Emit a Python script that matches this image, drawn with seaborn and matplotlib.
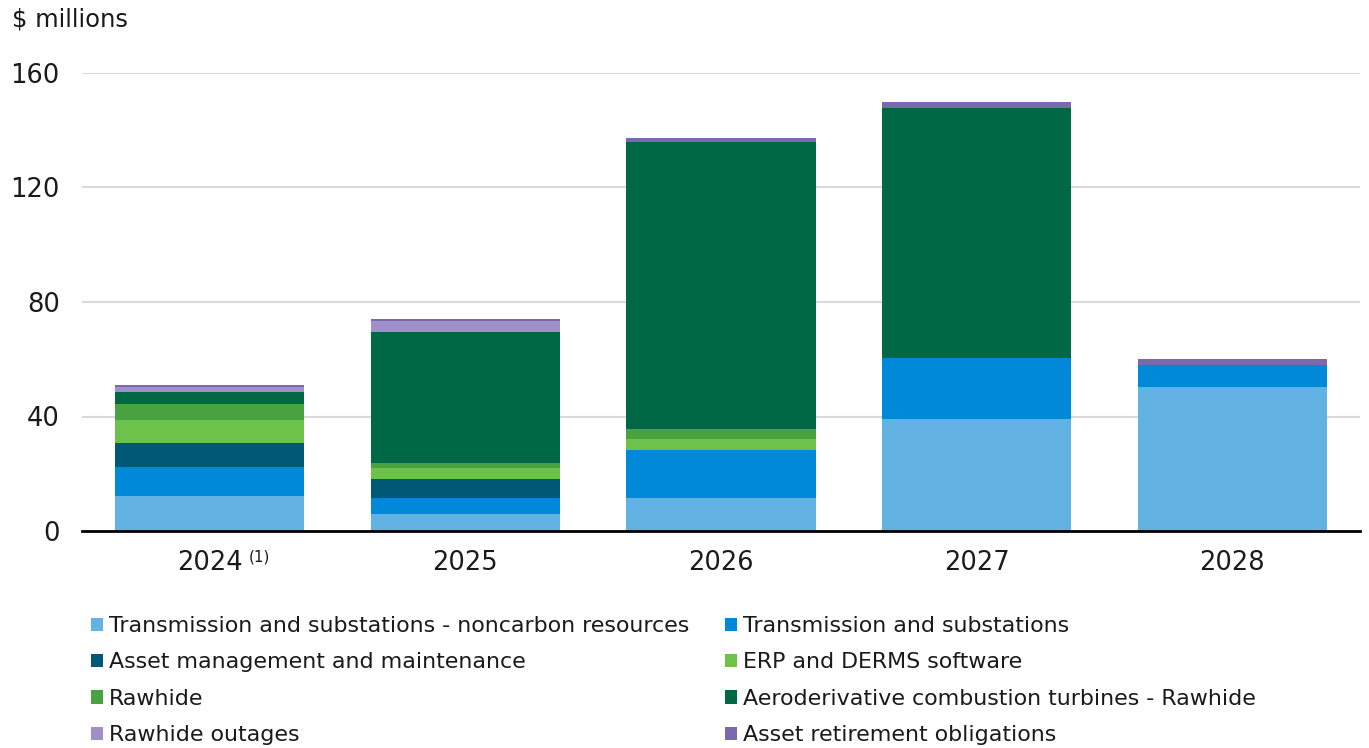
import numpy as np
import pandas as pd
import matplotlib
matplotlib.use("Agg")
import matplotlib.pyplot as plt
import seaborn as sns
from matplotlib.patches import Patch

years = ["2024", "2025", "2026", "2027", "2028"]

series_names = [
    "Transmission and substations - noncarbon resources",
    "Transmission and substations",
    "Asset management and maintenance",
    "ERP and DERMS software",
    "Rawhide",
    "Aeroderivative combustion turbines - Rawhide",
    "Rawhide outages",
    "Asset retirement obligations",
]

tx_noncarbon = [12.2, 6.0, 11.6, 39.1, 50.4]
tx_substations = [10.1, 5.6, 16.7, 21.4, 7.6]
asset_mgmt = [8.3, 6.4, 0.0, 0.0, 0.0]
erp_derms = [8.1, 4.1, 3.8, 0.0, 0.0]
rawhide = [5.5, 1.5, 3.7, 0.0, 0.0]
aero_turbines = [4.4, 46.0, 100.1, 87.1, 0.0]
rawhide_outages = [1.6, 3.8, 0.0, 0.0, 0.0]
aro = [0.7, 0.8, 1.5, 2.3, 2.0]

colors = ["#62B3E4", "#0089D9", "#005776", "#6CC24A",
          "#48A23F", "#006845", "#A08FCB", "#7A68B0"]

df = pd.DataFrame({
    "year": years,
    series_names[0]: tx_noncarbon,
    series_names[1]: tx_substations,
    series_names[2]: asset_mgmt,
    series_names[3]: erp_derms,
    series_names[4]: rawhide,
    series_names[5]: aero_turbines,
    series_names[6]: rawhide_outages,
    series_names[7]: aro,
})

sns.set_style("white")
plt.rcParams['font.family'] = ['DejaVu Sans']

fig = plt.figure(figsize=(13.69, 7.48), dpi=100)
ax = fig.add_axes([82 / 1369, 1 - 531 / 748, 1278 / 1369, 458 / 748])

# stacked bars, one seaborn call per component
bottom = np.zeros(len(years))
for name, col in zip(series_names, colors):
    vals = df[name].values
    sns.barplot(x=df["year"], y=vals, bottom=bottom, color=col,
                width=0.74, saturation=1, ax=ax, linewidth=0)
    bottom += vals

ax.set_xlim(-0.5, 4.5)
ax.set_ylim(0, 160)
ax.set_yticks([0, 40, 80, 120, 160])
ax.yaxis.grid(True, color="#D9D9D9", linewidth=1.5)
ax.set_axisbelow(True)
for s in ["left", "right", "top"]:
    ax.spines[s].set_visible(False)
ax.spines["bottom"].set_color("black")
ax.spines["bottom"].set_linewidth(2)
ax.tick_params(axis="both", length=0, labelsize=18.5, colors="#1A1A1A")
ax.tick_params(axis="y", pad=16)
ax.tick_params(axis="x", pad=14)
ax.set_xlabel("")
ax.set_ylabel("")

# footnote marker on the first year
ax.annotate("(1)", xy=(0, 0), xycoords=("data", "axes fraction"),
            xytext=(28, -13), textcoords="offset points",
            fontsize=11, color="#1A1A1A", va="top", ha="left")

fig.text(12 / 1369, 1 - 20 / 748, "$ millions", fontsize=17.5,
         color="#1A1A1A", va="center", ha="left")

handles = [Patch(facecolor=c, edgecolor="none") for c in colors]
order = [0, 2, 4, 6, 1, 3, 5, 7]
fig.legend([handles[i] for i in order], [series_names[i] for i in order],
           ncol=2, loc="upper left", bbox_to_anchor=(91 / 1369, 1 - 616 / 748),
           frameon=False, fontsize=15.9, handlelength=0.55, handleheight=0.55,
           handletextpad=0.27, columnspacing=1.6, labelspacing=0.74,
           labelcolor="#1A1A1A", borderpad=0, borderaxespad=0)

plt.savefig("out.png", dpi=100)
